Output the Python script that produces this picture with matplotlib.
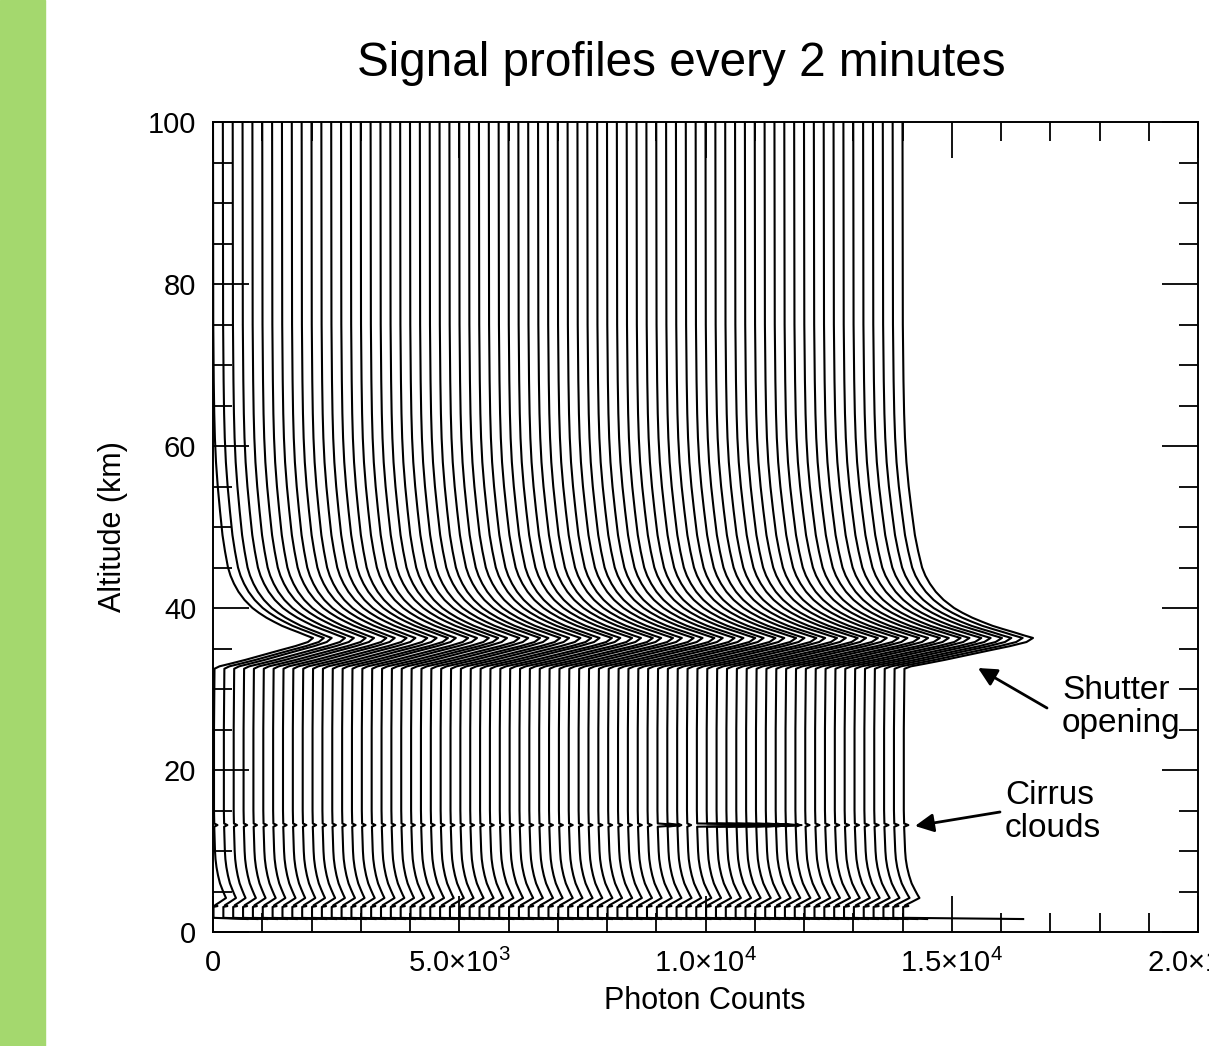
import numpy as np
import matplotlib
matplotlib.use("Agg")
import matplotlib.pyplot as plt
from matplotlib.ticker import MultipleLocator, FuncFormatter
from matplotlib.patches import Rectangle

plt.rcParams["font.family"] = ["Liberation Sans", "DejaVu Sans"]
plt.rcParams["mathtext.fontset"] = "custom"
plt.rcParams["mathtext.rm"] = "Liberation Sans"
plt.rcParams["mathtext.it"] = "Liberation Sans:italic"

# Shape of one signal profile (leftmost one).
# Altitude in km (top -> bottom) and photon counts above the profile's baseline.
ALT_KM = [100, 75, 68, 64, 61, 58, 55, 52, 49, 47, 45, 44, 43, 42, 41, 40,
          39.4, 38.8, 38.3, 37.8, 37.4, 37.0, 36.6, 36.3, 35.8, 35.3, 34.8,
          34.2, 33.6, 33.1, 32.8, 32.5, 25, 15, 13.4, 13.2, 13.0, 12, 10, 9,
          8, 7, 6, 5.2, 4.6, 4.2, 3.7, 3.3, 3.2, 3.1, 1.75, 1.6]
SHAPE_COUNTS = [0, 5, 15, 25, 38, 60, 95, 140, 190, 240, 300, 350, 420, 510,
                630, 790, 920, 1070, 1220, 1380, 1540, 1710, 1870, 2000, 1900,
                1650, 1350, 1000, 650, 330, 130, 30, 20, 20, 25, 90, 25, 30,
                40, 50, 70, 100, 140, 190, 230, 260, 140, 40, 90, 10, 10, 700]
SHAPE_PEAK = 2000
CIRRUS_ALT = 13.2
GROUND_ALT = 1.6
GROUND_COUNTS = 700

# Peak (shutter-opening) counts of each 2-minute profile, left to right.
PEAK_COUNTS = [2030, 2050, 2010, 2080, 2060, 2100, 2070, 2120, 2090, 2130,
               2110, 2150, 2140, 2170, 2130, 2180, 2160, 2200, 2190, 2170,
               2220, 2200, 2240, 2210, 2250, 2230, 2260, 2280, 2250, 2300,
               2270, 2310, 2290, 2330, 2300, 2340, 2320, 2360, 2340, 2380,
               2350, 2390, 2370, 2410, 2380, 2420, 2400, 2440, 2410, 2450,
               2430, 2470, 2450, 2490, 2460, 2500, 2480, 2520, 2500, 2540,
               2520, 2560, 2540, 2580, 2560, 2600, 2590, 2620, 2610, 2640,
               2650]

# Profiles with strong cirrus returns at ~13 km.
CIRRUS_PROFILES = [45, 46, 49, 50, 51, 52, 53, 54, 55, 56, 57]
CIRRUS_COUNTS = [470, 280, 2150, 1900, 1700, 1500, 1250, 1000, 800, 500, 250]

# Profiles with a larger near-ground return.
GROUND_PROFILES = [70]
GROUND_EXTRA = [2450]

PROFILE_STEP = 200  # horizontal shift between successive profiles

W, H = 1209, 1046
fig = plt.figure(figsize=(W / 100, H / 100), dpi=100)


def fx(x):
    return x / W


def fy(y):
    return 1 - y / H


fig.add_artist(Rectangle((0, 0), fx(45), 1, transform=fig.transFigure,
                         color="#A4D86E", zorder=0))

ax = fig.add_axes([fx(213), fy(932), fx(1198) - fx(213), fy(122) - fy(932)])

alt = np.array(ALT_KM)
shape = np.array(SHAPE_COUNTS, dtype=float)
i_cirrus = ALT_KM.index(CIRRUS_ALT)
i_ground = ALT_KM.index(GROUND_ALT)
cirrus = dict(zip(CIRRUS_PROFILES, CIRRUS_COUNTS))
ground = dict(zip(GROUND_PROFILES, GROUND_EXTRA))

for k, peak in enumerate(PEAK_COUNTS):
    counts = shape * peak / SHAPE_PEAK
    if k in cirrus:
        counts[i_cirrus] = cirrus[k]
    counts[i_ground] = ground.get(k, GROUND_COUNTS)
    ax.plot(k * PROFILE_STEP + counts, alt, color="black", lw=1.5)

ax.set_xlim(0, 20000)
ax.set_ylim(0, 100)


def xfmt(v, pos):
    if v <= 0:
        return "0"
    e = int(np.floor(np.log10(v)))
    return r"$%.1f{\times}10^{%d}$" % (v / 10 ** e, e)


ax.xaxis.set_major_locator(MultipleLocator(5000))
ax.xaxis.set_minor_locator(MultipleLocator(1000))
ax.xaxis.set_major_formatter(FuncFormatter(xfmt))
ax.yaxis.set_major_locator(MultipleLocator(20))
ax.yaxis.set_minor_locator(MultipleLocator(5))
ax.tick_params(which="both", direction="in", top=True, right=True,
               width=1.3, labelsize=21, pad=12)
ax.tick_params(which="major", length=26)
ax.tick_params(which="minor", length=13.5)
for s in ax.spines.values():
    s.set_linewidth(1.4)

fig.text(fx(681), fy(63), "Signal profiles every 2 minutes", fontsize=34.3,
         ha="center", va="center")
fig.text(fx(705), fy(1001), "Photon Counts", fontsize=22, ha="center", va="center")
fig.text(fx(113), fy(527), "Altitude (km)", fontsize=22, rotation=90,
         ha="center", va="center")

fig.text(fx(1062), fy(707), "Shutter\nopening", fontsize=24, ha="left",
         va="center", linespacing=1.05)
fig.text(fx(1005), fy(812), "Cirrus\nclouds", fontsize=24, ha="left",
         va="center", linespacing=1.05)

arrow = dict(arrowstyle="-|>", lw=2, color="black", mutation_scale=28,
             shrinkA=0, shrinkB=0)
ax.annotate("", xy=(fx(978), fy(668)), xytext=(fx(1047), fy(708)),
            xycoords="figure fraction", textcoords="figure fraction",
            arrowprops=arrow)
ax.annotate("", xy=(fx(915), fy(826)), xytext=(fx(1000), fy(812)),
            xycoords="figure fraction", textcoords="figure fraction",
            arrowprops=arrow)

fig.savefig("out.png", dpi=100)
